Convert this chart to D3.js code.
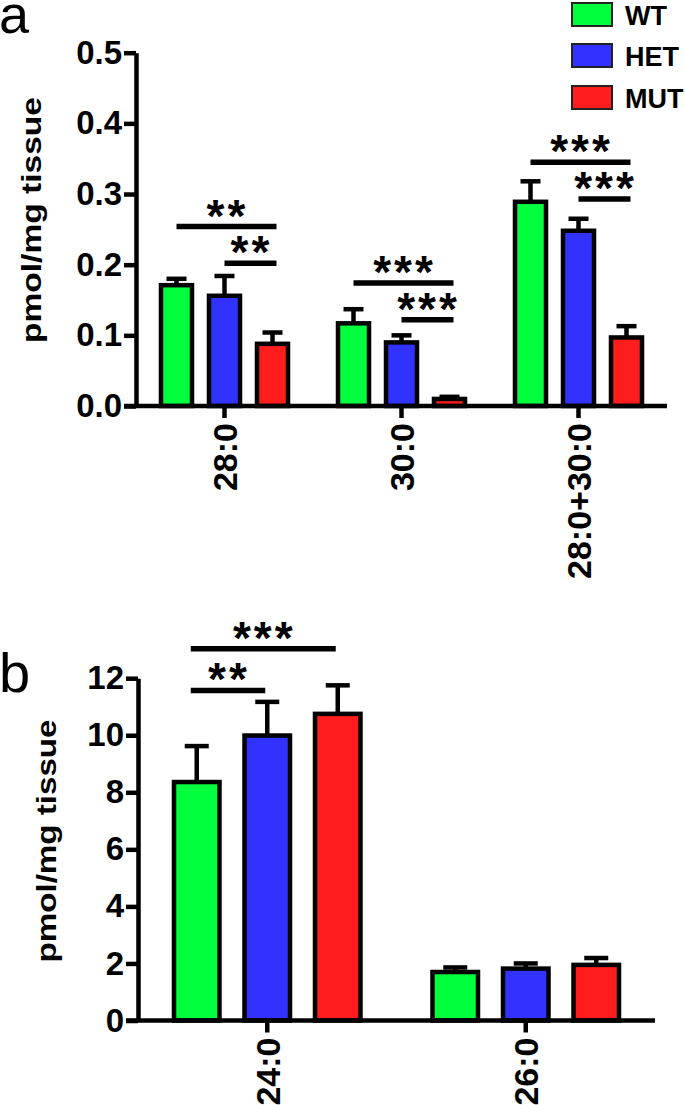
<!DOCTYPE html>
<html>
<head>
<meta charset="utf-8">
<script src="https://cdn.jsdelivr.net/npm/d3@7"></script>
<style>
  html, body { margin: 0; padding: 0; background: #fff; }
  svg { display: block; }
  text { font-family: "Liberation Sans", Arial, sans-serif; fill: #000; }
</style>
</head>
<body>
<script>
// ---------------- data ----------------
const series = ["WT", "HET", "MUT"];
const seriesColors = ["#00ff3c", "#3232ff", "#ff1c1c"];

// panel a
const groupsA = ["28:0", "30:0", "28:0+30:0"];
const meanA_WT  = [0.171, 0.117, 0.289];
const meanA_HET = [0.156, 0.090, 0.248];
const meanA_MUT = [0.088, 0.010, 0.097];
const semA_WT   = [0.009, 0.020, 0.029];
const semA_HET  = [0.028, 0.010, 0.017];
const semA_MUT  = [0.016, 0.003, 0.016];
const ticksA = [0, 0.1, 0.2, 0.3, 0.4, 0.5];
// significance: [group, from series, to series, y value, label]
const sigA = [
  ["28:0", "WT", "MUT", 0.254, "**"],
  ["28:0", "HET", "MUT", 0.202, "**"],
  ["30:0", "WT", "MUT", 0.174, "***"],
  ["30:0", "HET", "MUT", 0.122, "***"],
  ["28:0+30:0", "WT", "MUT", 0.345, "***"],
  ["28:0+30:0", "HET", "MUT", 0.293, "***"]
];

// panel b
const groupsB = ["24:0", "26:0"];
const meanB_WT  = [8.36, 1.70];
const meanB_HET = [9.99, 1.82];
const meanB_MUT = [10.75, 1.95];
const semB_WT   = [1.26, 0.16];
const semB_HET  = [1.18, 0.18];
const semB_MUT  = [1.00, 0.24];
const ticksB = [0, 2, 4, 6, 8, 10, 12];
const sigB = [
  ["24:0", "WT", "MUT", 13.03, "***"],
  ["24:0", "WT", "HET", 11.57, "**"]
];

const yTitle = "pmol/mg tissue";

// ---------------- drawing ----------------
const W = 685, H = 1105;
const svg = d3.select("body").append("svg").attr("width", W).attr("height", H);
svg.append("rect").attr("width", W).attr("height", H).attr("fill", "#fff");

const color = d3.scaleOrdinal().domain(series).range(seriesColors);

function panel(cfg) {
  const g = svg.append("g");
  const y = d3.scaleLinear().domain(cfg.domain).range(cfg.yRange);
  const x0 = d3.scaleBand().domain(cfg.groups).range(cfg.xRange).padding(0);
  const half = cfg.step * 1.5;
  const pIn = 1 - cfg.barW / cfg.step;
  const x1 = d3.scaleBand().domain(series).range([-half, half])
    .paddingInner(pIn).paddingOuter(pIn / 2);

  const rows = [];
  cfg.groups.forEach((grp, i) => {
    series.forEach((s, j) => {
      rows.push({grp, s, v: cfg.means[j][i], e: cfg.sems[j][i]});
    });
  });
  const cx = d => x0(d.grp) + x0.bandwidth() / 2 + x1(d.s) + x1.bandwidth() / 2;

  // error bars
  const eb = g.append("g").attr("stroke", "#000").attr("stroke-width", cfg.sw);
  eb.selectAll("line.stem").data(rows).join("line").attr("class", "stem")
    .attr("x1", cx).attr("x2", cx)
    .attr("y1", d => y(d.v)).attr("y2", d => y(d.v + d.e));
  eb.selectAll("line.cap").data(rows).join("line").attr("class", "cap")
    .attr("x1", d => cx(d) - cfg.capW / 2).attr("x2", d => cx(d) + cfg.capW / 2)
    .attr("y1", d => y(d.v + d.e)).attr("y2", d => y(d.v + d.e));

  // bars
  g.append("g").selectAll("rect").data(rows).join("rect")
    .attr("x", d => cx(d) - x1.bandwidth() / 2)
    .attr("width", x1.bandwidth())
    .attr("y", d => y(d.v))
    .attr("height", d => y(0) - y(d.v))
    .attr("fill", d => color(d.s))
    .attr("stroke", "#000").attr("stroke-width", cfg.sw);

  // y axis
  const ya = g.append("g").attr("transform", `translate(${cfg.xRange[0]},0)`)
    .call(d3.axisLeft(y).tickValues(cfg.ticks).tickFormat(cfg.fmt)
      .tickSize(12).tickSizeOuter(0).tickPadding(2));
  ya.select(".domain").attr("stroke-width", 4.5);
  ya.selectAll(".tick line").attr("stroke-width", 4.5);
  ya.selectAll(".tick text").attr("font-size", 33).attr("font-weight", "bold")
    .attr("font-family", "Liberation Sans, Arial, sans-serif").attr("fill", "#000");

  // x axis
  const xa = g.append("g").attr("transform", `translate(0,${cfg.yRange[0]})`)
    .call(d3.axisBottom(x0).tickSize(12).tickSizeOuter(0));
  xa.select(".domain").attr("stroke-width", 4.5)
    .attr("d", `M${cfg.xRange[0] - 12},0H${cfg.xRange[1]}`);
  xa.selectAll(".tick line").attr("stroke-width", 4.5);
  xa.selectAll(".tick text")
    .attr("font-size", 34).attr("font-weight", "bold")
    .attr("font-family", "Liberation Sans, Arial, sans-serif").attr("fill", "#000")
    .attr("text-anchor", "end")
    .attr("transform", "rotate(-90)")
    .attr("x", -17).attr("y", 0).attr("dy", "0.36em");

  // y title
  g.append("text")
    .attr("transform", `translate(${cfg.titleX},${cfg.titleY}) rotate(-90)`)
    .attr("text-anchor", "middle")
    .attr("dy", "0.35em")
    .attr("font-size", 28).attr("font-weight", "bold")
    .attr("textLength", cfg.titleLen).attr("lengthAdjust", "spacingAndGlyphs")
    .text(yTitle);

  // significance
  const sg = g.append("g");
  cfg.sig.forEach(([grp, a, b, v, lab]) => {
    const xa_ = x0(grp) + x0.bandwidth() / 2 + x1(a) + x1.bandwidth() / 2 + cfg.sigOff[0];
    const xb_ = x0(grp) + x0.bandwidth() / 2 + x1(b) + x1.bandwidth() / 2 + cfg.sigOff[1];
    sg.append("line").attr("x1", xa_).attr("x2", xb_)
      .attr("y1", y(v)).attr("y2", y(v))
      .attr("stroke", "#000").attr("stroke-width", 5.5);
    sg.append("text").attr("x", (xa_ + xb_) / 2 + 1).attr("y", y(v) + cfg.starDy)
      .attr("text-anchor", "middle")
      .attr("font-size", cfg.starSize).attr("font-weight", "bold")
      .attr("letter-spacing", cfg.starLs)
      .text(lab);
  });

  // panel letter
  svg.append("text").attr("x", cfg.letterX).attr("y", cfg.letterY)
    .attr("font-size", cfg.letterSize).attr("font-family", "Liberation Sans, Arial, sans-serif")
    .text(cfg.letter);
}

panel({
  groups: groupsA, domain: [0, 0.5], yRange: [406, 52.7], xRange: [136, 667],
  step: 48, barW: 31, capW: 20, sw: 4.5,
  means: [meanA_WT, meanA_HET, meanA_MUT], sems: [semA_WT, semA_HET, semA_MUT],
  ticks: ticksA, fmt: d3.format(".1f"),
  titleX: 31, titleY: 220, titleLen: 246,
  sig: sigA, sigOff: [0, 4], starDy: 5, starSize: 46, starLs: 3,
  letter: "a", letterX: -1, letterY: 33, letterSize: 54
});

panel({
  groups: groupsB, domain: [0, 12], yRange: [1020.5, 678.2], xRange: [138, 655],
  step: 70.5, barW: 45.5, capW: 24, sw: 4.5,
  means: [meanB_WT, meanB_HET, meanB_MUT], sems: [semB_WT, semB_HET, semB_MUT],
  ticks: ticksB, fmt: d3.format("d"),
  titleX: 46, titleY: 841, titleLen: 243,
  sig: sigB, sigOff: [-6, -2], starDy: 5, starSize: 46, starLs: 3,
  letter: "b", letterX: -1, letterY: 692, letterSize: 56
});

// legend
const lg = svg.append("g");
series.forEach((s, i) => {
  const yTop = [2, 43, 85][i];
  lg.append("rect").attr("x", 572).attr("y", yTop + 1).attr("width", 40).attr("height", 23)
    .attr("fill", color(s)).attr("stroke", "#222").attr("stroke-width", 2);
  lg.append("text").attr("x", 625).attr("y", yTop + 13).attr("dy", "0.36em")
    .attr("font-size", 27).attr("font-weight", "bold").text(s);
});
</script>
</body>
</html>
